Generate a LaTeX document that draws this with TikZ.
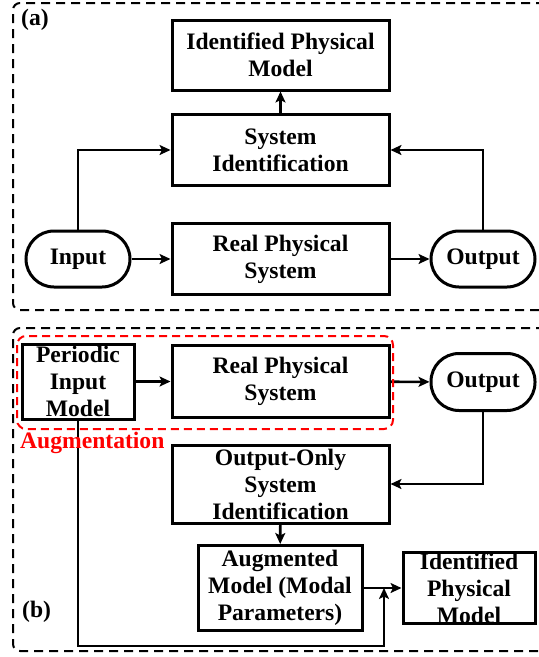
\documentclass[tikz,border=0pt]{standalone}
\usepackage{fontspec}
\setmainfont{Liberation Serif}
\usetikzlibrary{arrows.meta}
\newcommand\dlbl{\fontsize{23.6}{27}\selectfont\bfseries}
\begin{document}
\begin{tikzpicture}[x=1pt,y=-1pt,
  box/.style={draw, line width=3pt, rectangle, inner sep=0pt, align=center, font=\dlbl},
  pill/.style={box, rounded corners=28pt},
  conn/.style={line width=2.6pt, -{Stealth[length=11pt,width=10pt,inset=2.5pt]}},
  frame/.style={line width=2pt, dash pattern=on 9pt off 6pt, rounded corners=7pt},
  aug/.style={line width=2pt, red, dash pattern=on 8pt off 5pt, rounded corners=9pt},
  tag/.style={font=\dlbl, inner sep=0pt, anchor=west}]
\clip (0,0) rectangle (539,657);
\useasboundingbox (0,0) rectangle (539,657);
% frames
\draw[frame] (560,3) -- (13,3) -- (13,310) -- (560,310);
\draw[frame] (560,328) -- (13,328) -- (13,651) -- (560,651);
\node[tag] (la) at (21,20) {(a)};
\node[tag] (lb) at (22,612) {(b)};
% part (a)
\node[box, minimum width=217pt, minimum height=70pt] (ipmA) at (280.5,55) {Identified Physical\\Model};
\node[box, minimum width=217pt, minimum height=71pt] (siA) at (280.5,150) {System\\Identification};
\node[box, minimum width=217pt, minimum height=71pt] (rpsA) at (280.5,259) {Real Physical\\System};
\node[pill, minimum width=104pt, minimum height=56pt] (inA) at (78,259) {Input};
\node[pill, minimum width=104pt, minimum height=56pt] (outA) at (483,259) {Output};
\draw[conn] (inA) -- (rpsA);
\draw[conn] (rpsA) -- (outA);
\draw[conn] (inA.north) |- (siA.west);
\draw[conn] (outA.north) |- (siA.east);
\draw[conn] (siA) -- (ipmA);
% part (b)
\node[box, minimum width=112pt, minimum height=75pt] (pimB) at (78,381.5) {Periodic\\Input\\Model};
\node[box, minimum width=217pt, minimum height=72pt] (rpsB) at (280.5,381.5) {Real Physical\\System};
\node[pill, minimum width=104pt, minimum height=57pt] (outB) at (483,382) {Output};
\node[box, minimum width=217pt, minimum height=78pt] (oosiB) at (280.5,484) {Output-Only\\System\\Identification};
\node[box, minimum width=164pt, minimum height=85pt] (amB) at (280,588) {Augmented\\Model (Modal\\Parameters)};
\node[box, minimum width=132pt, minimum height=71pt] (ipmB) at (469,588) {Identified\\Physical\\Model};
\coordinate (c1) at (78,646);
\coordinate (c2) at (384,646);
\coordinate (c3) at (384,588);
\draw[conn] (pimB) -- (rpsB);
\draw[conn] (rpsB) -- (outB);
\draw[conn] (outB.south) |- (oosiB.east);
\draw[conn] (oosiB) -- (amB);
\draw[conn] (amB) -- (ipmB);
\draw[conn] (pimB.south) -- (c1) -- (c2) -- (c3);
% augmentation
\draw[aug] (17,336) rectangle (393,429);
\node[tag, text=red] (augl) at (20,443) {Augmentation};
\end{tikzpicture}
\end{document}
